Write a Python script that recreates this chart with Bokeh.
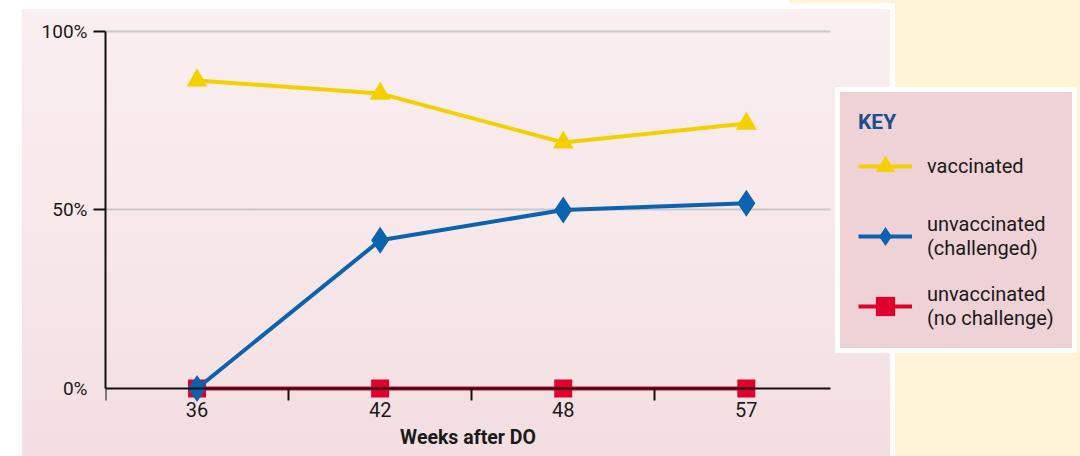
from bokeh.plotting import figure
from bokeh.models import FixedTicker, Range1d, Legend, LegendItem
from bokeh.embed import file_html
from bokeh.resources import INLINE

# ---- data -------------------------------------------------------------
weeks = ["36", "42", "48", "57"]
vaccinated = [86.3, 82.6, 68.9, 74.2]
unvacc_challenged = [0.0, 41.5, 50.0, 51.9]
unvacc_no_challenge = [0.0, 0.0, 0.0, 0.0]
y_tick_values = [0, 50, 100]
y_tick_labels = ["0%", "50%", "100%"]
grid_values = [50, 100]
series_labels = ["vaccinated", "unvaccinated\n(challenged)", "unvaccinated\n(no challenge)"]

xs = [i + 0.5 for i in range(len(weeks))]
x_bounds = [i for i in range(len(weeks))]
x_end = 3.96

FONT = "Roboto"
YEL = "#f4d000"
BLUE = "#0b63b0"
RED = "#e0002b"

bg = ("linear-gradient(to right, rgba(0,0,0,0) 0px, rgba(0,0,0,0) 789px, #fff4d6 789px) top left / 100% 3px no-repeat, "
      "linear-gradient(to right, #ffffff 0px, #ffffff 895px, #fff4d6 895px) top left / 100% 9px no-repeat, "
      "linear-gradient(to right, #ffffff 0px, #ffffff 22px, rgba(0,0,0,0) 22px, "
      "rgba(0,0,0,0) 890px, #ffffff 890px, #ffffff 895px, #fff4d6 895px), "
      "linear-gradient(to bottom, #faeff0 0%, #f7e7e9 55%, #f3dee1 100%)")

p = figure(width=1080, height=456, output_backend="svg", toolbar_location=None,
           x_range=Range1d(0, 5.325), y_range=Range1d(-19.05, 108.68),
           min_border_left=105, min_border_right=0, min_border_top=0,
           min_border_bottom=0,
           background_fill_alpha=0, border_fill_alpha=0, outline_line_color=None,
           styles={"background": bg})

p.xgrid.visible = False
g = p.ygrid[0]
if "cross_bounds" in g.properties():
    g.ticker = FixedTicker(ticks=grid_values)
    g.cross_bounds = (0, x_end)
    g.grid_line_color = "#c9c9c9"
    g.grid_line_width = 2
else:
    g.visible = False
    p.segment(x0=[0] * len(grid_values), x1=[x_end] * len(grid_values),
              y0=grid_values, y1=grid_values, line_color="#c9c9c9", line_width=2)

# y axis
ya = p.yaxis[0]
ya.ticker = FixedTicker(ticks=y_tick_values, minor_ticks=grid_values)
ya.major_label_overrides = {v: l for v, l in zip(y_tick_values, y_tick_labels)}
ya.bounds = (0, 100)
ya.axis_line_width = 2
ya.axis_line_color = "#111111"
ya.major_tick_out = 0
ya.major_tick_in = 0
ya.minor_tick_out = 12
ya.minor_tick_in = 0
ya.minor_tick_line_width = 2
ya.minor_tick_line_color = "#111111"
ya.major_label_standoff = 6
ya.major_label_text_font = FONT
ya.major_label_text_font_size = "19px"
ya.major_label_text_color = "#1a1a1a"

# x axis
xa = p.xaxis[0]
xa.fixed_location = 0
xa.ticker = FixedTicker(ticks=xs, minor_ticks=x_bounds)
xa.major_label_overrides = {x: w for x, w in zip(xs, weeks)}
xa.bounds = (0, x_end)
xa.axis_line_width = 2
xa.axis_line_color = "#111111"
xa.major_tick_out = 0
xa.major_tick_in = 0
xa.minor_tick_out = 12
xa.minor_tick_in = 0
xa.minor_tick_line_width = 2
xa.minor_tick_line_color = "#111111"
xa.major_label_standoff = 2
xa.major_label_text_font = FONT
xa.major_label_text_font_size = "20px"
xa.major_label_text_color = "#1a1a1a"
xa.axis_label = "Weeks after DO"
xa.axis_label_text_font = FONT
xa.axis_label_text_font_style = "bold"
xa.axis_label_text_font_size = "19.5px"
xa.axis_label_text_color = "#1a1a1a"
xa.axis_label_standoff = 5

# series
l3 = p.line(xs, unvacc_no_challenge, line_color=RED, line_width=4)
s3 = p.scatter(xs, unvacc_no_challenge, marker="square", size=18, fill_color=RED, line_color=None)
l2 = p.line(xs, unvacc_challenged, line_color=BLUE, line_width=4)
s2 = p.scatter(xs, unvacc_challenged, marker="diamond", size=27, fill_color=BLUE, line_color=None)
l1 = p.line(xs, vaccinated, line_color=YEL, line_width=4)
s1 = p.scatter(xs, vaccinated, marker="triangle", size=21, fill_color=YEL, line_color=None)

legend = Legend(
    items=[LegendItem(label=series_labels[0], renderers=[l1, s1]),
           LegendItem(label=series_labels[1], renderers=[l2, s2]),
           LegendItem(label=series_labels[2], renderers=[l3, s3])],
    location=(730, 103), title="KEY", margin=0,
    border_line_color="#ffffff", border_line_width=5, border_line_alpha=1,
    background_fill_color="#efd2d6", background_fill_alpha=1,
    padding=18, spacing=22, glyph_width=54, glyph_height=48,
    label_standoff=15, label_width=122,
    title_text_font=FONT, title_text_font_style="bold", title_text_font_size="21px",
    title_text_color="#1d4e8e", title_standoff=8,
    label_text_font=FONT, label_text_font_size="20px", label_text_color="#1a1a1a",
)
p.add_layout(legend, "center")

open("out.html", "w").write(file_html(p, INLINE))
